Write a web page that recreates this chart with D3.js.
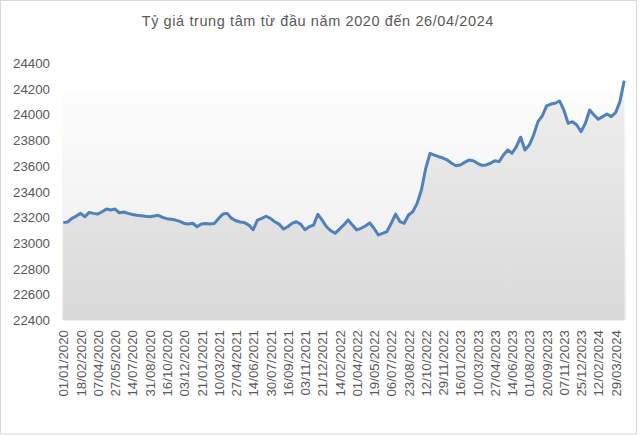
<!DOCTYPE html>
<html>
<head>
<meta charset="utf-8">
<script src="https://cdn.jsdelivr.net/npm/d3@7"></script>
<style>
  body { margin: 0; background: #fff; }
  text { font-family: "Liberation Sans", Arial, sans-serif; fill: #595959; }
</style>
</head>
<body>
<div id="chart"></div>
<script>
// tick labels on the x axis (every 4th sample)
var dateLabels = ["01/01/2020","18/02/2020","07/04/2020","27/05/2020","14/07/2020","31/08/2020",
  "16/10/2020","03/12/2020","21/01/2021","10/03/2021","27/04/2021","14/06/2021","30/07/2021",
  "16/09/2021","03/11/2021","21/12/2021","14/02/2022","01/04/2022","19/05/2022","06/07/2022",
  "23/08/2022","12/10/2022","29/11/2022","16/01/2023","10/03/2023","27/04/2023","14/06/2023",
  "01/08/2023","20/09/2023","07/11/2023","25/12/2023","12/02/2024","29/03/2024"];

// central rate (4 samples per label step)
var rate = [23160,23165,23193,23211,23232,23206,23240,23232,23227,23245,
  23266,23258,23266,23237,23243,23232,23224,23217,23214,23209,
  23206,23211,23217,23201,23191,23186,23180,23170,23154,23149,
  23155,23128,23150,23154,23149,23154,23193,23227,23232,23193,
  23175,23165,23160,23141,23105,23180,23193,23210,23193,23167,
  23149,23110,23128,23154,23167,23149,23105,23128,23141,23225,
  23180,23128,23097,23077,23110,23142,23181,23142,23103,23116,
  23134,23158,23116,23064,23077,23090,23155,23227,23168,23155,
  23219,23245,23310,23414,23583,23699,23686,23673,23663,23647,
  23622,23603,23609,23629,23647,23642,23622,23606,23609,23622,
  23642,23635,23686,23725,23700,23751,23825,23725,23764,23842,
  23946,23990,24068,24083,24089,24107,24037,23933,23946,23920,
  23868,23933,24037,23998,23964,23985,24005,23985,24016,24102,
  24265];

var yTicks = [22400,22600,22800,23000,23200,23400,23600,23800,24000,24200,24400];

var W = 640, H = 436;
var svg = d3.select("#chart").append("svg")
  .attr("width", W).attr("height", H);

// outer frame
svg.append("rect")
  .attr("x", 0.5).attr("y", 0.5)
  .attr("width", 636).attr("height", 433.5)
  .attr("fill", "#fff").attr("stroke", "#d9d9d9");

var defs = svg.append("defs");
var bg = defs.append("linearGradient").attr("id", "bgGrad")
  .attr("x1", 0).attr("y1", 0).attr("x2", 0).attr("y2", 1);
bg.append("stop").attr("offset", "0%").attr("stop-color", "#fdfdfd");
bg.append("stop").attr("offset", "100%").attr("stop-color", "#ebebeb");

var ag = defs.append("linearGradient").attr("id", "areaGrad")
  .attr("x1", 0).attr("y1", 0).attr("x2", 0).attr("y2", 1);
ag.append("stop").attr("offset", "0%").attr("stop-color", "#efefef");
ag.append("stop").attr("offset", "100%").attr("stop-color", "#d9d9d9");

var x = d3.scaleLinear().domain([0, 128]).range([63.3, 615.6]);
var y = d3.scaleLinear().domain([22400, 24400]).range([320.3, 63.3]);

// plot background
svg.append("rect")
  .attr("x", 62).attr("y", 92)
  .attr("width", 564).attr("height", y(22400) - 92)
  .attr("fill", "url(#bgGrad)");

var area = d3.area()
  .x(function(d, i) { return x(i); })
  .y0(y(22400))
  .y1(function(d) { return y(d); });

svg.append("path")
  .datum(rate)
  .attr("d", area)
  .attr("fill", "url(#areaGrad)");

var line = d3.line()
  .x(function(d, i) { return x(i); })
  .y(function(d) { return y(d); });

svg.append("path")
  .datum(rate)
  .attr("d", line)
  .attr("fill", "none")
  .attr("stroke", "#4f81bd")
  .attr("stroke-width", 3)
  .attr("stroke-linejoin", "round");

// Y axis labels
var yAxis = svg.append("g")
  .attr("transform", "translate(50,0)")
  .call(d3.axisLeft(y).tickValues(yTicks).tickSize(0).tickPadding(0).tickFormat(d3.format("d")));
yAxis.select(".domain").remove();
yAxis.selectAll("text")
  .attr("font-size", "13.3px")
  .attr("font-family", "Liberation Sans, Arial, sans-serif")
  .attr("fill", "#595959");

// X axis labels
var xAxis = svg.append("g")
  .attr("transform", "translate(0," + 330 + ")")
  .call(d3.axisBottom(x)
    .tickValues(d3.range(0, dateLabels.length * 4, 4))
    .tickSize(0)
    .tickFormat(function(d) { return dateLabels[d / 4]; }));
xAxis.select(".domain").remove();
xAxis.selectAll("text")
  .attr("font-size", "13.3px")
  .attr("font-family", "Liberation Sans, Arial, sans-serif")
  .attr("fill", "#595959")
  .style("text-anchor", "end")
  .attr("x", 0)
  .attr("y", 0)
  .attr("dx", 0)
  .attr("dy", "0.35em")
  .attr("transform", "rotate(-90)");

// Title
svg.append("text")
  .attr("x", 141.7)
  .attr("y", 26)
  .attr("text-anchor", "start")
  .attr("font-size", "14.5px")
  .attr("letter-spacing", "0.6px")
  .text("Tỷ giá trung tâm từ đầu năm 2020 đến 26/04/2024");
</script>
</body>
</html>
